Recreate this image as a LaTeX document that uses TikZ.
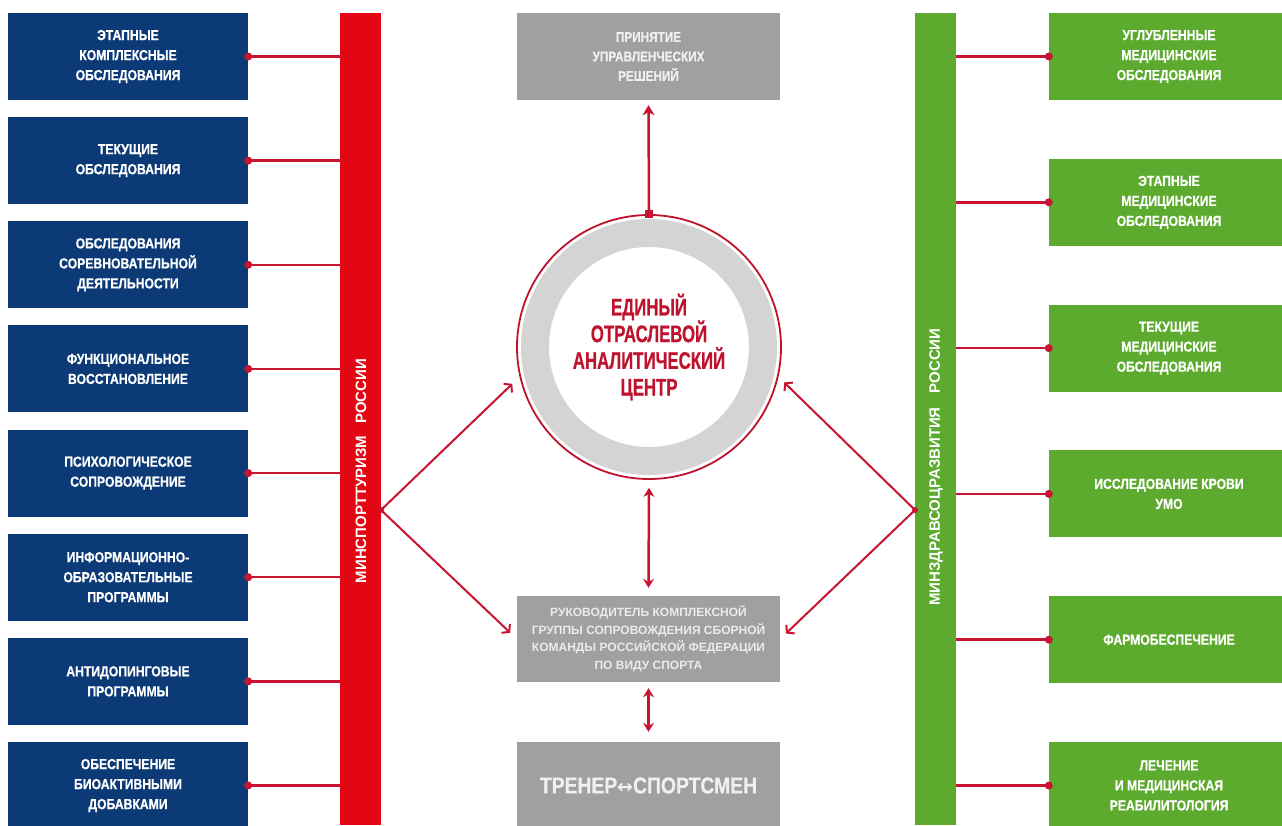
\documentclass[tikz,border=0pt]{standalone}
\usepackage{fontspec}
\setmainfont{Liberation Sans}
\newfontfamily\condfont[FakeStretch=0.84,BoldFeatures={FakeBold=0.6}]{Liberation Sans}
\newfontfamily\circfont[FakeStretch=0.7,BoldFeatures={FakeBold=0.6}]{Liberation Sans}
\newfontfamily\symfont{DejaVu Sans}
\usetikzlibrary{arrows.meta,positioning,calc}
\definecolor{sportblue}{RGB}{12,58,118}
\definecolor{sportred}{RGB}{227,6,19}
\definecolor{medgreen}{RGB}{92,170,46}
\definecolor{boxgray}{RGB}{160,160,160}
\definecolor{ringgray}{RGB}{212,212,212}
\definecolor{linkred}{RGB}{200,20,48}
\definecolor{circred}{RGB}{190,18,45}
\tikzset{
  box/.style={inner sep=0pt, align=center, text=white, minimum height=87pt},
  sportbox/.style={box, fill=sportblue, minimum width=240pt, font=\condfont\bfseries\fontsize{14.5}{20}\selectfont},
  medbox/.style={box, fill=medgreen, minimum width=240pt, font=\condfont\bfseries\fontsize{14.5}{20}\selectfont},
  graybox/.style={box, fill=boxgray, minimum width=263pt},
  bar/.style={minimum width=41pt, minimum height=812pt, inner sep=0pt},
  barlabel/.style={rotate=90, text=white, font=\bfseries\fontsize{15}{15}\selectfont},
  link/.style={draw=linkred, line width=2.5pt},
  fan/.style={draw=linkred, line width=2pt, -{Straight Barb[length=5pt,width=12pt,line width=2pt]}},
  vert/.style={draw=linkred, line width=2.5pt}
}
\begin{document}
\begin{tikzpicture}[x=1pt,y=-1pt]
  \useasboundingbox (0,0) rectangle (1282,825);

  \node[bar, fill=sportred] (mst) at (360.5,419) {};
  \node[barlabel] (mstlbl) at (361,471) {МИНСПОРТТУРИЗМ\hspace{12pt}РОССИИ};
  \node[bar, fill=medgreen] (mzd) at (935.5,419) {};
  \node[barlabel] (mzdlbl) at (936,467) {МИНЗДРАВСОЦРАЗВИТИЯ\hspace{14pt}РОССИИ};

  \foreach \txt [count=\i from 0] in {{ЭТАПНЫЕ\\КОМПЛЕКСНЫЕ\\ОБСЛЕДОВАНИЯ},{ТЕКУЩИЕ\\ОБСЛЕДОВАНИЯ},
      {ОБСЛЕДОВАНИЯ\\СОРЕВНОВАТЕЛЬНОЙ\\ДЕЯТЕЛЬНОСТИ},{ФУНКЦИОНАЛЬНОЕ\\ВОССТАНОВЛЕНИЕ},
      {ПСИХОЛОГИЧЕСКОЕ\\СОПРОВОЖДЕНИЕ},{ИНФОРМАЦИОННО-\\ОБРАЗОВАТЕЛЬНЫЕ\\ПРОГРАММЫ},
      {АНТИДОПИНГОВЫЕ\\ПРОГРАММЫ},{ОБЕСПЕЧЕНИЕ\\БИОАКТИВНЫМИ\\ДОБАВКАМИ}}{
    \node[sportbox] (sp\i) at (128,56.5+104.14*\i) {\txt};
    \draw[link] (sp\i.east) -- (sp\i.east -| mst.west);
    \fill[linkred] (sp\i.east) circle (4pt);
  }

  \foreach \txt [count=\i from 0] in {{УГЛУБЛЕННЫЕ\\МЕДИЦИНСКИЕ\\ОБСЛЕДОВАНИЯ},{ЭТАПНЫЕ\\МЕДИЦИНСКИЕ\\ОБСЛЕДОВАНИЯ},
      {ТЕКУЩИЕ\\МЕДИЦИНСКИЕ\\ОБСЛЕДОВАНИЯ},{ИССЛЕДОВАНИЕ КРОВИ\\УМО},
      {ФАРМОБЕСПЕЧЕНИЕ},{ЛЕЧЕНИЕ\\И МЕДИЦИНСКАЯ\\РЕАБИЛИТОЛОГИЯ}}{
    \node[medbox] (md\i) at (1169,56.5+145.8*\i) {\txt};
    \draw[link] (md\i.west) -- (md\i.west -| mzd.east);
    \fill[linkred] (md\i.west) circle (4pt);
  }

  \node[graybox, font=\condfont\bfseries\fontsize{14}{19.5}\selectfont, text=white!94!black] (dec) at (648.5,56.5)
    {ПРИНЯТИЕ\\УПРАВЛЕНЧЕСКИХ\\РЕШЕНИЙ};
  \node[graybox, minimum height=86pt, font=\bfseries\fontsize{12}{17.5}\selectfont, text=white!92!black] (lead) at (648.5,639)
    {РУКОВОДИТЕЛЬ КОМПЛЕКСНОЙ\\ГРУППЫ СОПРОВОЖДЕНИЯ СБОРНОЙ\\КОМАНДЫ РОССИЙСКОЙ ФЕДЕРАЦИИ\\ПО ВИДУ СПОРТА};
  \node[graybox, font=\condfont\bfseries\fontsize{23}{23}\selectfont, text=white!94!black] (coach) at (648.5,785.5)
    {ТРЕНЕР{\symfont\fontsize{19}{19}\selectfont↔}СПОРТСМЕН};

  \node[circle, draw=circred, line width=1.8pt, minimum size=264pt, inner sep=0pt] (ctr) at (649,347) {};
  \fill[ringgray, even odd rule] (ctr.center) circle (128pt) (ctr.center) circle (100pt);
  \node[align=center, text=circred, font=\circfont\bfseries\fontsize{24}{26.7}\selectfont] (ctrlbl) at (ctr.center)
    {ЕДИНЫЙ\\ОТРАСЛЕВОЙ\\АНАЛИТИЧЕСКИЙ\\ЦЕНТР};

  \draw[vert, -{Stealth[length=10pt,width=12pt,inset=3pt]}] (ctr.north) -- ([yshift=-5pt]dec.south);
  \node[fill=linkred, minimum size=8pt, inner sep=0pt] (sq) at (ctr.north) {};
  \draw[vert, {Stealth[length=9pt,width=11pt,inset=3pt]}-{Stealth[length=9pt,width=11pt,inset=3pt]}]
    ([yshift=-8pt]ctr.south) -- ([yshift=8pt]lead.north);
  \draw[vert, {Stealth[length=9pt,width=11pt,inset=3pt]}-{Stealth[length=9pt,width=11pt,inset=3pt]}]
    ([yshift=-6pt]lead.south) -- ([yshift=10pt]coach.north);

  \coordinate (lv) at (381,510);
  \coordinate (rv) at (915,510);
  \draw[fan, shorten >=10pt] (lv) -- (ctr.193);
  \draw[fan, shorten >=9pt] (lv) -- (lead.west);
  \draw[fan, shorten >=8pt] (rv) -- (ctr.347);
  \draw[fan, shorten >=8pt] (rv) -- (lead.east);
  \fill[linkred] (lv) circle (3pt) (rv) circle (3pt);
\end{tikzpicture}
\end{document}
